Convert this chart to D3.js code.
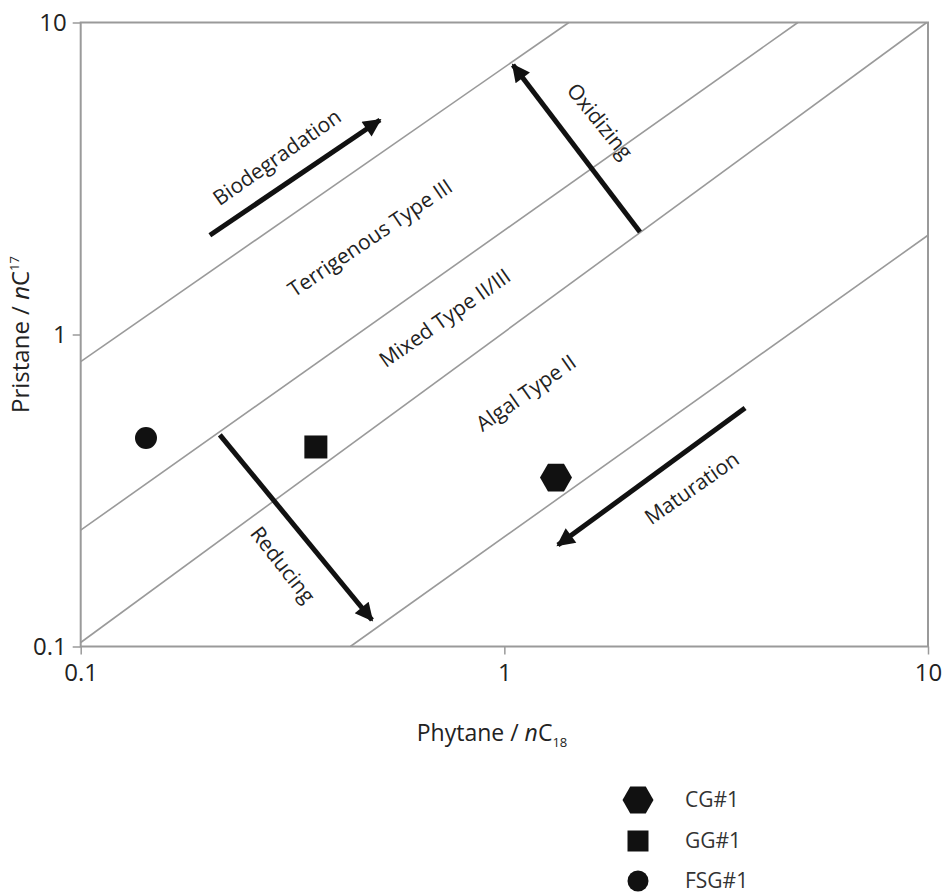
<!DOCTYPE html>
<html><head><meta charset="utf-8">
<script src="https://cdn.jsdelivr.net/npm/d3@7"></script>
<style>body{margin:0;background:#fff;} svg{display:block;} text{font-family:"Open Sans","Noto Sans",sans-serif;}</style>
</head><body>
<svg id="c" width="949" height="896"></svg>
<script>
// ---- data ----
const xTicks = [0.1, 1, 10];
const yTicks = [0.1, 1, 10];
const tickLabels = ["0.1", "1", "10"];
// boundary lines (Pr/nC17 vs Ph/nC18), endpoints in data units
const boundaries = [
  {x1: 0.1, y1: 0.819, x2: 1.42, y2: 10},
  {x1: 0.1, y1: 0.236, x2: 4.93, y2: 10},
  {x1: 0.1, y1: 0.103, x2: 9.93, y2: 10},
  {x1: 0.433, y1: 0.1, x2: 10, y2: 2.08}
];
const samples = ["CG#1", "GG#1", "FSG#1"];
const phytane = [1.324, 0.359, 0.1426];
const pristane = [0.348, 0.436, 0.466];
const shapes = ["hexagon", "square", "circle"];
// process arrows (data units)
const arrows = [
  {name: "Biodegradation", x1: 0.2018, y1: 2.08, x2: 0.5086, y2: 4.87},
  {name: "Oxidizing", x1: 2.09, y1: 2.13, x2: 1.048, y2: 7.31},
  {name: "Reducing", x1: 0.213, y1: 0.477, x2: 0.487, y2: 0.1216},
  {name: "Maturation", x1: 3.70, y1: 0.581, x2: 1.338, y2: 0.2114}
];
// annotation labels (data position, angle)
const labels = [
  {text: "Biodegradation", x: 0.2905, y: 3.7, a: -35},
  {text: "Terrigenous Type III", x: 0.482, y: 2.04, a: -34},
  {text: "Mixed Type II/III", x: 0.724, y: 1.13, a: -35},
  {text: "Algal Type II", x: 1.125, y: 0.65, a: -35},
  {text: "Oxidizing", x: 1.68, y: 4.83, a: 51},
  {text: "Reducing", x: 0.3, y: 0.183, a: 52},
  {text: "Maturation", x: 2.77, y: 0.322, a: -35}
];

// ---- drawing ----
const svg = d3.select("#c");
const L = 80.7, R = 928, T = 22.5, B = 646.5;
const x = d3.scaleLog().domain([0.1, 10]).range([L, R]);
const y = d3.scaleLog().domain([0.1, 10]).range([B, T]);
const gray = "#9a9a9a";
const font = "'Open Sans','Noto Sans',sans-serif";

// frame
svg.append("rect").attr("x", L).attr("y", T).attr("width", R - L).attr("height", B - T)
  .attr("fill", "none").attr("stroke", gray).attr("stroke-width", 2);

// axes
const xAxis = svg.append("g").attr("transform", `translate(0,${B})`)
  .call(d3.axisBottom(x).tickValues(xTicks).tickSize(8).tickPadding(6).tickFormat((d, i) => tickLabels[i]));
const yAxis = svg.append("g").attr("transform", `translate(${L},0)`)
  .call(d3.axisLeft(y).tickValues(yTicks).tickSize(8).tickPadding(6).tickFormat((d, i) => tickLabels[i]));
[xAxis, yAxis].forEach(g => {
  g.select(".domain").remove();
  g.selectAll(".tick line").attr("stroke", gray).attr("stroke-width", 1.5);
  g.selectAll(".tick text").attr("fill", "#222").style("font-size", "24px").style("font-family", font);
});
xAxis.selectAll(".tick text").attr("dy", "0.85em");
yAxis.selectAll(".tick text").attr("dy", "0.35em");

// boundary lines
svg.append("g").selectAll("line").data(boundaries).join("line")
  .attr("x1", d => x(d.x1)).attr("y1", d => y(d.y1))
  .attr("x2", d => x(d.x2)).attr("y2", d => y(d.y2))
  .attr("stroke", gray).attr("stroke-width", 1.6);

// arrows
const defs = svg.append("defs");
defs.append("marker").attr("id", "ah").attr("viewBox", "0 0 10 10").attr("refX", 9).attr("refY", 5)
  .attr("markerWidth", 5.5).attr("markerHeight", 3.6).attr("orient", "auto").attr("markerUnits", "strokeWidth")
  .append("path").attr("d", "M0,0 L10,5 L0,10 z").attr("fill", "#111");
svg.append("g").selectAll("line").data(arrows).join("line")
  .attr("x1", d => x(d.x1)).attr("y1", d => y(d.y1))
  .attr("x2", d => x(d.x2)).attr("y2", d => y(d.y2))
  .attr("stroke", "#111").attr("stroke-width", 5).attr("marker-end", "url(#ah)");

// labels
svg.append("g").selectAll("text").data(labels).join("text")
  .attr("transform", d => `translate(${x(d.x)},${y(d.y)}) rotate(${d.a})`)
  .attr("text-anchor", "middle").attr("dy", "0.35em")
  .attr("fill", "#222").style("font-size", "21px").text(d => d.text);

// symbols
function shapePath(s, size) {
  if (s === "hexagon") {
    const pts = d3.range(6).map(i => [size * Math.cos(i * Math.PI / 3), size * Math.sin(i * Math.PI / 3)]);
    return "M" + pts.map(p => p.join(",")).join("L") + "Z";
  }
  if (s === "square") return d3.symbol(d3.symbolSquare, size * size)();
  return d3.symbol(d3.symbolCircle, Math.PI * size * size / 4)();
}
const plotSizes = [16, 23, 22];
svg.append("g").selectAll("path").data(samples).join("path")
  .attr("transform", (d, i) => `translate(${x(phytane[i])},${y(pristane[i])})`)
  .attr("d", (d, i) => shapePath(shapes[i], plotSizes[i]))
  .attr("fill", "#111");

// axis titles
const xt = svg.append("text").attr("x", 492).attr("y", 741).attr("text-anchor", "middle")
  .attr("fill", "#222").style("font-size", "23px");
xt.append("tspan").text("Phytane / ");
xt.append("tspan").style("font-style", "italic").text("n");
xt.append("tspan").text("C");
xt.append("tspan").attr("dy", 6).style("font-size", "13px").text("18");

const yt = svg.append("text").attr("transform", `translate(29,${(T + B) / 2}) rotate(-90)`).attr("text-anchor", "middle")
  .attr("fill", "#222").style("font-size", "24px");
yt.append("tspan").text("Pristane / ");
yt.append("tspan").style("font-style", "italic").text("n");
yt.append("tspan").text("C");
yt.append("tspan").attr("dy", -10).style("font-size", "13px").text("17");

// legend
const lg = svg.append("g");
const legY = [800, 841, 881];
const legSizes = [15.5, 21, 21];
samples.forEach((s, i) => {
  lg.append("path").attr("transform", `translate(638,${legY[i]})`)
    .attr("d", shapePath(shapes[i], legSizes[i]))
    .attr("fill", "#111");
  lg.append("text").attr("x", 685).attr("y", legY[i]).attr("dy", "0.35em")
    .attr("fill", "#333").style("font-size", "21px").text(s);
});
</script>
</body></html>
